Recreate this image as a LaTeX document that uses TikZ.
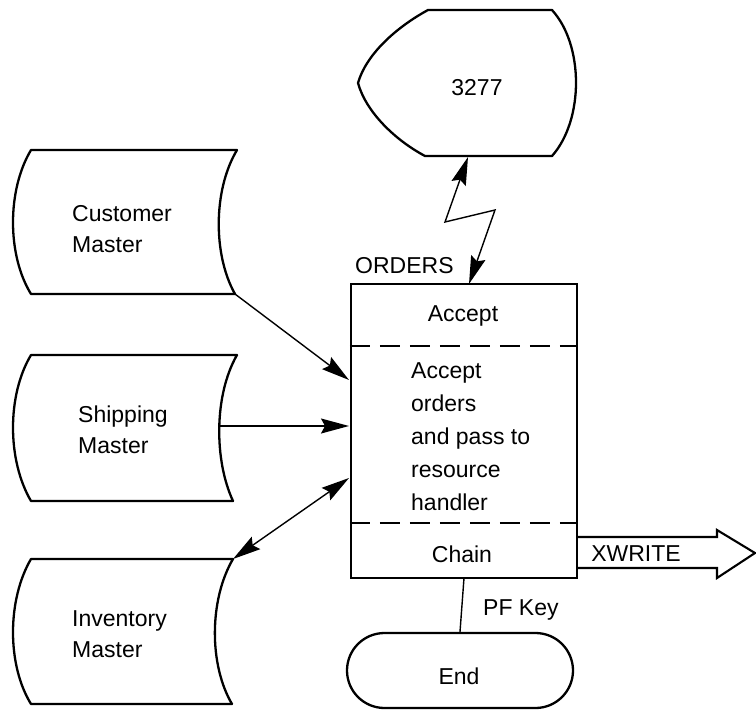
\documentclass[tikz,border=0pt]{standalone}
\usepackage{fontspec}
\setmainfont{Liberation Sans}
\usetikzlibrary{arrows.meta,shapes.misc}
\begin{document}
\begin{tikzpicture}[x=1pt,y=-1pt,
  outline/.style={line width=2.3pt, line join=round},
  conn/.style={line width=1.4pt},
  head/.tip={Stealth[length=28pt,width=15pt,inset=4pt]},
  txt/.style={font=\fontsize{23}{31}\selectfont, inner sep=0pt, align=left},
  divider/.style={line width=1.4pt, dash pattern=on 20pt off 10pt}]
\useasboundingbox (0,0) rectangle (756,710);

% --- display terminal ---
\draw[outline] (428,10) -- (552,10)
  .. controls (584,45) and (584,120) .. (552,156) -- (425,156)
  .. controls (395,140) and (366,112) .. (358,83)
  .. controls (366,55) and (395,28) .. cycle;
\node[txt] (term) at (477,88) {3277};
\coordinate (term-s) at (468,157);

% --- stored data files ---
\draw[outline] (31,150) -- (237,150)
  .. controls (213,190) and (213,255) .. (235,294) -- (31,294)
  .. controls (7,255) and (7,190) .. cycle;
\node[txt, anchor=west] (cust) at (72,229) {Customer\\Master};
\coordinate (cust-se) at (235,294);

\draw[outline] (31,355) -- (237,355)
  .. controls (214,395) and (214,460) .. (233,501) -- (31,501)
  .. controls (7,460) and (7,395) .. cycle;
\node[txt, anchor=west] (ship) at (78,430) {Shipping\\Master};
\coordinate (ship-e) at (219,426);

\draw[outline] (31,559) -- (233,559)
  .. controls (209,600) and (209,665) .. (232,704) -- (31,704)
  .. controls (7,665) and (7,600) .. cycle;
\node[txt, anchor=west] (inv) at (72,634) {Inventory\\Master};
\coordinate (inv-ne) at (233,559);

% --- ORDERS program box ---
\node[draw, line width=2.1pt, minimum width=226pt, minimum height=294pt, inner sep=0pt]
  (orders) at (464,431) {};
\node[txt, anchor=base west] (ordlbl) at (355,273) {ORDERS};
\draw[divider] (orders.west |- 0,346) -- (orders.east |- 0,346);
\draw[divider] (orders.west |- 0,523) -- (orders.east |- 0,523);
\node[txt] (accept) at (463,316) {Accept};
\node[txt, font=\fontsize{23}{33}\selectfont, anchor=west] (body) at (411,437)
  {Accept\\orders\\and pass to\\resource\\handler};
\node[txt] (chain) at (462,554) {Chain};

\coordinate (ord-n)  at (469,284);
\coordinate (ord-w1) at (349,380);
\coordinate (ord-w2) at (349,426);
\coordinate (ord-w3) at (349,478);
\coordinate (ord-s)  at (464,578);
\coordinate (zz1) at (445,222);
\coordinate (zz2) at (495,210);

% --- communication line (lightning) ---
\draw[conn, {head}-{head}, line join=miter] (term-s) -- (zz1) -- (zz2) -- (ord-n);

% --- file connectors ---
\draw[conn, -{head}] (cust-se) -- (ord-w1);
\draw[conn, -{head}] (ship-e) -- (ord-w2);
\draw[conn, {head}-{head}] (inv-ne) -- (ord-w3);

% --- XWRITE output arrow ---
\coordinate (xw-a) at (577,537);
\coordinate (xw-tip) at (755,553);
\draw[line width=2.1pt, line join=miter] (xw-a) -- (717,537) -- (717,530) -- (xw-tip)
  -- (717,578) -- (717,568) -- (577,568);
\node[txt] (xwrite) at (636,554) {XWRITE};

% --- end terminal ---
\node[draw, outline, rounded rectangle, minimum width=226pt, minimum height=75pt,
  inner sep=0pt] (end) at (460,670.5) {};
\node[txt] (endlbl) at (459,676) {End};
\draw[line width=1.4pt] (ord-s) -- (end.north);
\node[txt, anchor=base west] (pfkey) at (483,615) {PF Key};
\end{tikzpicture}
\end{document}
